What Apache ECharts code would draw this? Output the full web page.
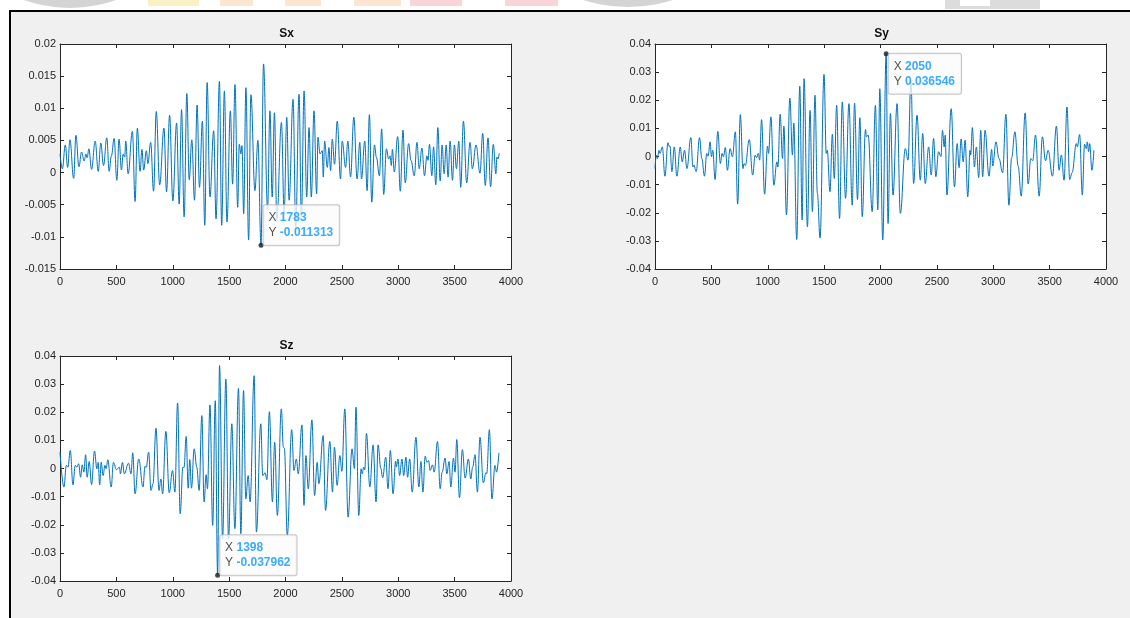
<!DOCTYPE html>
<html><head><meta charset="utf-8">
<script src="https://cdn.jsdelivr.net/npm/echarts@6/dist/echarts.min.js"></script>
<style>html,body{margin:0;padding:0;background:#fff;overflow:hidden}#c{width:1130px;height:618px}</style>
</head><body><div id="c"></div>
<script>
// ---- data ----
const titles = ['Sx', 'Sy', 'Sz'];
const xTicks = [0, 500, 1000, 1500, 2000, 2500, 3000, 3500, 4000];
const sxYTicks = [-0.015, -0.01, -0.005, 0, 0.005, 0.01, 0.015, 0.02];
const sxYLabels = ['-0.015', '-0.01', '-0.005', '0', '0.005', '0.01', '0.015', '0.02'];
const syYTicks = [-0.04, -0.03, -0.02, -0.01, 0, 0.01, 0.02, 0.03, 0.04];
const syYLabels = ['-0.04', '-0.03', '-0.02', '-0.01', '0', '0.01', '0.02', '0.03', '0.04'];
const szYTicks = [-0.04, -0.03, -0.02, -0.01, 0, 0.01, 0.02, 0.03, 0.04];
const szYLabels = ['-0.04', '-0.03', '-0.02', '-0.01', '0', '0.01', '0.02', '0.03', '0.04'];

const sxData = [[0,0.0029],[21,0.0006],[47,0.0043],[68,0.0008],[88,0.0051],[121,-0.0009],[141,0.0058],[168,0.0009],[191,0.0032],[215,0.0018],[230,0.0029],[241,0.0023],[256,0.0037],[280,0.0005],[312,0.0049],[339,0.0002],[362,0.0046],[386,0.0011],[415,0.0054],[436,0.0002],[456,0.0026],[480,0.0053],[504,-0.0012],[524,0.0052],[545,0.0004],[560,0.0029],[574,0.0024],[583,0.0049],[604,-0.0002],[642,0.0064],[666,-0.0045],[686,0.0069],[710,0.0002],[727,0.0036],[742,0.0004],[766,0.0034],[780,0.0014],[804,0.0047],[830,-0.0029],[854,0.0095],[884,-0.0019],[922,0.0069],[945,-0.003],[972,0.0089],[1001,-0.0044],[1034,0.0077],[1057,-0.0049],[1078,0.0098],[1101,-0.0069],[1125,0.0123],[1146,-0.0011],[1169,0.0051],[1193,-0.0043],[1216,0.0105],[1237,-0.0023],[1263,0.008],[1284,-0.0082],[1305,0.014],[1330,-0.0038],[1363,0.0065],[1384,-0.0072],[1414,0.0142],[1434,-0.0082],[1458,0.0127],[1481,-0.0077],[1511,0.0096],[1531,-0.0018],[1552,0.0137],[1576,-0.0054],[1590,0.0044],[1605,0.0029],[1614,0.0042],[1629,-0.0064],[1649,0.0132],[1673,-0.0105],[1693,0.0121],[1729,-0.0028],[1755,0.005],[1783,-0.011313],[1805,0.0169],[1841,-0.0056],[1862,0.0096],[1882,-0.0038],[1902,0.0093],[1923,-0.0074],[1964,0.0078],[1988,-0.0064],[2011,0.0086],[2032,-0.0043],[2067,0.0114],[2091,-0.0085],[2120,0.0122],[2141,-0.0069],[2165,0.0127],[2188,-0.0038],[2209,0.007],[2229,-0.0038],[2253,0.0096],[2276,-0.0033],[2288,0.0055],[2306,0.0029],[2326,0.0034],[2335,-0.0007],[2347,0.0049],[2371,0.0008],[2385,0.0039],[2400,0.0003],[2415,0.0052],[2435,0.0013],[2459,0.008],[2488,-0.001],[2503,0.0049],[2533,0.0008],[2553,0.0049],[2577,-0.0007],[2606,0.0086],[2635,-0.001],[2659,0.0047],[2674,-0.001],[2703,0.0049],[2724,-0.0028],[2744,0.009],[2765,-0.0046],[2789,0.0043],[2806,0.0024],[2833,-0.0005],[2853,0.0068],[2871,-0.0034],[2895,0.0037],[2915,0.0021],[2927,0.0026],[2939,0.0011],[2948,0.0036],[2965,0.0001],[2995,0.0056],[3018,-0.0029],[3042,0.0066],[3062,-0.0016],[3092,0.0045],[3113,0.0019],[3142,-0.0005],[3166,0.0047],[3186,0.0006],[3210,0.0038],[3233,-0.0005],[3254,0.0026],[3264,0.0019],[3277,0.0044],[3298,-0.0005],[3313,0.004],[3333,-0.0019],[3351,0.007],[3372,-0.0013],[3389,0.0043],[3407,-0.0002],[3425,0.0043],[3442,-0.0007],[3460,0.0049],[3481,-0.0012],[3498,0.0043],[3516,0.0006],[3537,0.0049],[3554,-0.0023],[3578,0.008],[3607,-0.0016],[3637,0.0047],[3657,0.0006],[3690,0.0043],[3725,-0.0001],[3749,0.0061],[3772,-0.002],[3796,0.0054],[3819,-0.0022],[3843,0.0044],[3866,-0.0002],[3875,0.0024],[3883,0.0021],[3896,0.003]];

const syData = [[0,-0.0043],[12,0.0005],[21,-0.0007],[35,0.0022],[44,0.0011],[65,0.0034],[88,-0.007],[115,0.0049],[125,0.0036],[132,0.0038],[150,-0.0054],[171,0.0034],[194,-0.007],[224,0.0034],[241,-0.0019],[262,0.0022],[283,-0.0043],[318,0.0067],[336,-0.0037],[345,-0.003],[365,-0.0054],[395,0.0067],[415,-0.0007],[439,-0.007],[459,0.0011],[471,0.0001],[489,0.0052],[501,-0.0001],[512,0.0022],[533,-0.0082],[557,0.0089],[580,-0.0025],[595,0.0011],[607,-0.0001],[624,0.0032],[642,-0.0049],[666,0.0028],[686,-0.0001],[713,0.0088],[733,-0.0169],[757,0.0149],[780,-0.0043],[790,-0.0025],[801,-0.0032],[836,0.006],[866,-0.0066],[889,0.0005],[901,-0.0004],[916,0.0011],[928,-0.0013],[945,0.0131],[972,-0.0134],[998,0.0037],[1007,0.0011],[1028,0.0141],[1054,-0.0102],[1081,-0.0019],[1090,-0.0037],[1110,0.015],[1131,-0.0007],[1143,0.0108],[1166,-0.0208],[1196,0.0208],[1219,0.0005],[1231,0.0119],[1257,-0.0295],[1284,0.025],[1305,-0.0226],[1322,0.0277],[1352,-0.025],[1375,0.0164],[1396,-0.0196],[1419,0.0218],[1440,-0.0131],[1464,-0.029],[1499,0.0292],[1519,0.0011],[1528,0.0022],[1552,-0.0125],[1573,0.0079],[1590,-0.0078],[1611,0.0182],[1637,-0.022],[1661,0.0194],[1690,-0.0149],[1720,0.0188],[1749,-0.0173],[1770,0.019],[1796,-0.0153],[1817,0.0138],[1838,-0.0214],[1867,0.0096],[1876,0.007],[1891,0.0076],[1926,-0.0196],[1955,0.0182],[1976,-0.019],[1994,0.0241],[2020,-0.0297],[2050,0.036546],[2067,-0.0238],[2088,0.0153],[2111,-0.0137],[2147,0.0188],[2176,-0.0202],[2220,0.0028],[2244,-0.0013],[2270,0.027],[2294,-0.0096],[2324,0.0147],[2353,-0.0084],[2374,0.0082],[2397,-0.0096],[2427,0.0034],[2450,-0.0066],[2471,0.0064],[2491,-0.0072],[2515,0.0017],[2536,0],[2550,0.0093],[2565,0.0034],[2574,0.0076],[2589,-0.0137],[2627,0.017],[2656,-0.0108],[2680,0.0046],[2697,-0.004],[2715,0.0062],[2733,-0.0019],[2750,0.0058],[2774,-0.0143],[2794,0.0022],[2800,0.0005],[2815,0.0103],[2833,-0.0037],[2850,0.0034],[2871,-0.0075],[2889,0.0093],[2906,-0.0072],[2927,0.0093],[2962,-0.007],[2986,0.0025],[2995,-0.0034],[3024,0.0052],[3051,-0.0007],[3083,-0.0058],[3112,0.015],[3139,-0.0173],[3163,-0.0004],[3192,0.0088],[3221,-0.0034],[3248,-0.0141],[3283,0.0155],[3310,-0.0098],[3333,-0.0007],[3350,-0.0015],[3375,0.0076],[3407,-0.0141],[3436,0.007],[3463,-0.0015],[3487,0.0022],[3525,-0.007],[3560,0.0108],[3584,-0.0049],[3604,0.0005],[3628,-0.0084],[3654,0.0176],[3678,-0.0082],[3699,-0.0058],[3737,0.0046],[3746,0.0034],[3766,0.0078],[3790,-0.0137],[3810,0.0044],[3825,0.0028],[3834,0.0052],[3846,0.0017],[3855,0.0046],[3875,-0.0049],[3893,0.0022]];

const szData = [[0,0.0058],[35,-0.0066],[56,0.0011],[71,0.0005],[91,0.0064],[115,-0.0058],[135,0.0011],[150,0.0005],[165,0.0017],[183,-0.0031],[197,0.0013],[212,-0.0013],[227,0.0049],[241,-0.0031],[259,0.0025],[280,-0.0057],[306,0.0062],[327,-0.0001],[338,0.0022],[352,-0.0058],[365,0.0022],[383,-0.0025],[398,0.0011],[409,-0.0001],[424,0.0031],[454,-0.0066],[474,0.0022],[501,-0.0004],[527,0.0005],[536,-0.0019],[554,0.0022],[571,-0.0019],[607,0.0019],[630,-0.0019],[645,0.0056],[666,-0.009],[698,0.0034],[736,-0.0066],[754,0.0008],[765,0.0004],[786,0.0058],[807,-0.0078],[825,-0.0054],[851,0.0143],[878,-0.0078],[895,-0.0037],[910,-0.009],[939,0.0132],[969,-0.0086],[998,-0.0007],[1019,-0.0084],[1043,0.0233],[1066,-0.0161],[1090,0.0005],[1100,0.0003],[1119,0.0114],[1137,-0.007],[1151,0.0032],[1166,-0.007],[1190,0.007],[1213,0.0005],[1234,-0.0078],[1258,0.0188],[1278,-0.0119],[1296,-0.0022],[1308,-0.0072],[1330,0.0226],[1354,-0.0202],[1377,0.0241],[1398,-0.037962],[1415,0.0366],[1442,-0.025],[1471,0.0318],[1495,-0.025],[1524,0.0159],[1551,-0.0214],[1583,0.0285],[1604,-0.0232],[1628,0.0277],[1648,-0.0108],[1669,-0.0025],[1686,-0.0119],[1722,0.033],[1742,-0.0226],[1781,0.0159],[1798,-0.0025],[1819,-0.0015],[1835,-0.004],[1857,0.0202],[1884,-0.0119],[1904,0.0093],[1928,-0.0167],[1963,0.0212],[1981,0.0076],[1990,0.0072],[2016,-0.0238],[2055,0.0138],[2075,-0.0007],[2096,0.0034],[2113,-0.0019],[2146,0.0155],[2164,-0.0131],[2181,0.0046],[2202,-0.0072],[2234,0.0173],[2258,-0.0096],[2281,0.0022],[2296,-0.0054],[2334,0.0117],[2355,-0.0149],[2393,0.0096],[2417,-0.0084],[2434,0.0076],[2458,-0.006],[2482,0.0046],[2500,-0.001],[2526,0.0212],[2555,-0.0173],[2590,0.007],[2611,0],[2625,0.0218],[2650,-0.0167],[2671,-0.0001],[2680,-0.0019],[2694,0.0005],[2703,-0.0005],[2718,0.0125],[2748,-0.0066],[2777,0.0084],[2803,-0.0119],[2821,0.0084],[2845,0.0001],[2862,-0.0033],[2889,0.004],[2909,-0.0072],[2930,0.0064],[2954,-0.009],[2977,0.0026],[2983,0.0005],[2998,0.0034],[3012,-0.0025],[3033,0.0034],[3048,-0.0025],[3068,0.004],[3083,-0.0031],[3101,0.0034],[3124,-0.0084],[3157,0.0111],[3183,-0.0066],[3201,0.0025],[3219,-0.0084],[3239,0.0044],[3254,0.0022],[3269,0.0028],[3283,-0.0007],[3304,0.0013],[3319,-0.0013],[3348,0.0096],[3372,-0.0072],[3389,-0.0013],[3416,0.0037],[3431,-0.0019],[3451,0.0025],[3466,-0.0066],[3490,0.0037],[3504,-0.0013],[3519,0.0103],[3543,-0.0104],[3569,0.0067],[3593,-0.0034],[3622,0.0034],[3643,-0.0037],[3660,0.0005],[3681,0.0049],[3702,-0.0084],[3725,0.0111],[3755,-0.0051],[3778,-0.0015],[3785,-0.0018],[3808,0.0138],[3831,-0.0108],[3858,0.0011],[3872,-0.0013],[3893,0.0056]];

const sxTip = [1783, -0.011313];
const syTip = [2050, 0.036546];
const szTip = [1398, -0.037962];

// ---- layout & style ----
const FONT = '"Liberation Sans", Arial, Helvetica, sans-serif';
const AX = '#262626';
const grids = [
  {left: 60, top: 44, width: 451, height: 225},
  {left: 655, top: 44, width: 451, height: 225},
  {left: 60, top: 356, width: 451, height: 225}
];
const panels = [
  {data: sxData, tip: sxTip, yt: sxYTicks, yl: sxYLabels, tipAlign: 'bottom'},
  {data: syData, tip: syTip, yt: syYTicks, yl: syYLabels, tipAlign: 'top'},
  {data: szData, tip: szTip, yt: szYTicks, yl: szYLabels, tipAlign: 'bottom'}
];

const xAxes = [], yAxes = [], series = [];
panels.forEach((p, i) => {
  const ymin = p.yt[0], ymax = p.yt[p.yt.length - 1], yint = p.yt[1] - p.yt[0];
  ['bottom', 'top'].forEach(pos => xAxes.push({
    type: 'value', gridIndex: i, position: pos, min: xTicks[0], max: xTicks[xTicks.length - 1],
    interval: xTicks[1] - xTicks[0],
    axisLine: {show: true, onZero: false, lineStyle: {color: AX, width: 1}},
    axisTick: {show: true, inside: true, length: 4, lineStyle: {color: AX}},
    axisLabel: {show: pos === 'bottom', color: AX, fontSize: 11, fontFamily: FONT, margin: 7,
      formatter: v => String(xTicks[Math.round((v - xTicks[0]) / (xTicks[1] - xTicks[0]))])},
    splitLine: {show: false}
  }));
  ['left', 'right'].forEach(pos => yAxes.push({
    type: 'value', gridIndex: i, position: pos, min: ymin, max: ymax, interval: yint,
    axisLine: {show: true, onZero: false, lineStyle: {color: AX, width: 1}},
    axisTick: {show: true, inside: true, length: 4, lineStyle: {color: AX}},
    axisLabel: {show: pos === 'left', color: AX, fontSize: 11, fontFamily: FONT, margin: 4,
      formatter: v => p.yl[Math.round((v - ymin) / yint)]},
    splitLine: {show: false}
  }));
  series.push({
    type: 'line', xAxisIndex: 2 * i, yAxisIndex: 2 * i, data: p.data,
    showSymbol: false, smooth: 0.4, smoothMonotone: 'x', silent: true,
    lineStyle: {color: '#0072BD', width: 1}, clip: true
  });
  series.push({
    type: 'scatter', xAxisIndex: 2 * i, yAxisIndex: 2 * i, data: [p.tip], symbolSize: 5,
    itemStyle: {color: '#1a1a1a'}, silent: true, z: 10,
    label: {
      show: true, position: 'right', distance: 0, align: 'left', verticalAlign: p.tipAlign,
      formatter: '{k|X} {v|' + String(p.tip[0]) + '}\n{k|Y} {v|' + String(p.tip[1]) + '}',
      backgroundColor: '#fbfbfb', borderColor: '#b5b5b5', borderWidth: 1, borderRadius: 2,
      padding: [5, 6, 5, 5], lineHeight: 15,
      rich: {
        k: {color: '#262626', fontSize: 12, fontFamily: FONT, lineHeight: 15},
        v: {color: '#0a96ff', fontSize: 12, fontWeight: 'bold', fontFamily: FONT, lineHeight: 15}
      }
    }
  });
});

const titleGraphics = titles.map((t, i) => ({
  type: 'text', x: grids[i].left + grids[i].width / 2 + 1, y: grids[i].top - 10, z: 5,
  style: {text: t, align: 'center', verticalAlign: 'middle', textAlign: 'center', textVerticalAlign: 'middle',
    font: 'bold 12px ' + FONT, fill: '#111'}
}));

const decor = [
  {type: 'rect', shape: {x: 10, y: 11, width: 1120, height: 607}, style: {fill: '#f0f0f0'}, z: -10},
  {type: 'circle', shape: {cx: 70, cy: -129, r: 137}, style: {fill: '#d4d4d4'}, z: -10},
  {type: 'rect', shape: {x: 148, y: 0, width: 51, height: 6}, style: {fill: '#fcf1c4'}, z: -10},
  {type: 'rect', shape: {x: 220, y: 0, width: 33, height: 6}, style: {fill: '#fbe6d2'}, z: -10},
  {type: 'rect', shape: {x: 285, y: 0, width: 36, height: 6}, style: {fill: '#fbe6d2'}, z: -10},
  {type: 'rect', shape: {x: 354, y: 0, width: 47, height: 6}, style: {fill: '#fbe6d2'}, z: -10},
  {type: 'rect', shape: {x: 410, y: 0, width: 52, height: 6}, style: {fill: '#f9d4d8'}, z: -10},
  {type: 'rect', shape: {x: 505, y: 0, width: 53, height: 6}, style: {fill: '#f9d4d8'}, z: -10},
  {type: 'circle', shape: {cx: 628, cy: -140, r: 147}, style: {fill: '#d4d4d4'}, z: -10},
  {type: 'rect', shape: {x: 945, y: 0, width: 95, height: 9}, style: {fill: '#dcdcdc'}, z: -10},
  {type: 'rect', shape: {x: 960, y: 0, width: 30, height: 6}, style: {fill: '#ffffff'}, z: -9},
  {type: 'line', shape: {x1: 10, y1: 11, x2: 1130, y2: 11}, style: {stroke: '#000', lineWidth: 2}, z: -5},
  {type: 'line', shape: {x1: 10, y1: 10, x2: 10, y2: 618}, style: {stroke: '#000', lineWidth: 2}, z: -5}
];

const chart = echarts.init(document.getElementById('c'), null, {renderer: 'canvas'});
chart.setOption({
  animation: false,
  backgroundColor: '#ffffff',
  grid: grids.map(g => Object.assign({show: true, backgroundColor: '#ffffff', borderWidth: 0, containLabel: false}, g)),
  xAxis: xAxes,
  yAxis: yAxes,
  series: series,
  graphic: decor.concat(titleGraphics)
});
</script></body></html>
